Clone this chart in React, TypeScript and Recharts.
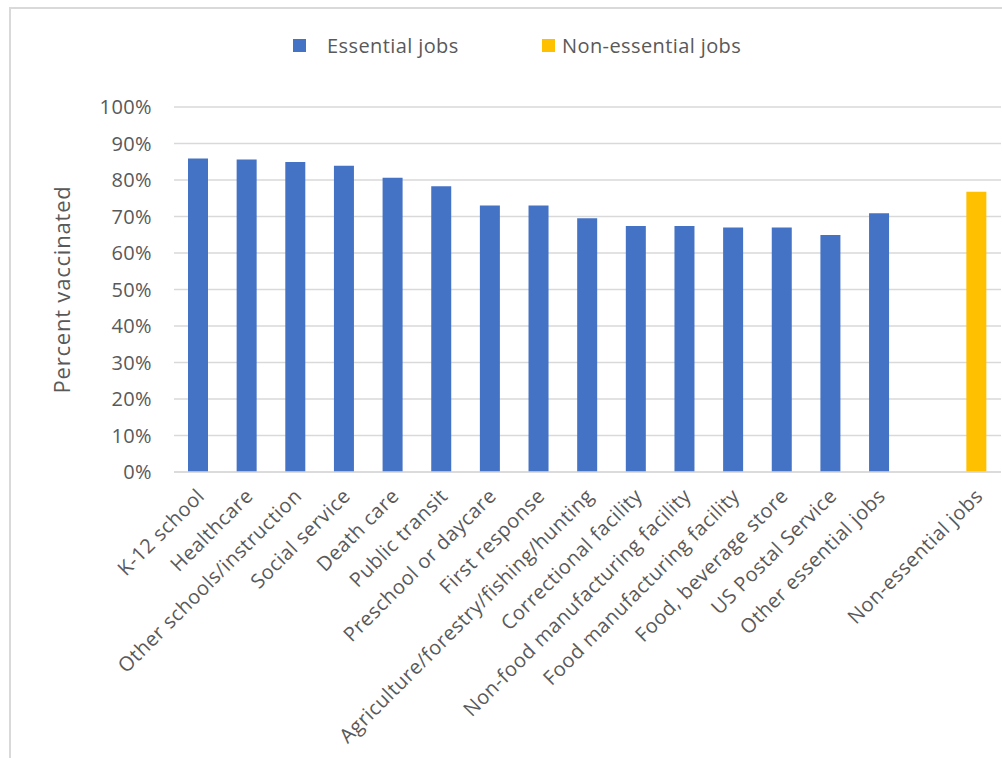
import React from 'react';
import { BarChart, Bar, XAxis, YAxis, CartesianGrid, Label } from 'recharts';

const categories = [
  'K-12 school',
  'Healthcare',
  'Other schools/instruction',
  'Social service',
  'Death care',
  'Public transit',
  'Preschool or daycare',
  'First response',
  'Agriculture/forestry/fishing/hunting',
  'Correctional facility',
  'Non-food manufacturing facility',
  'Food manufacturing facility',
  'Food, beverage store',
  'US Postal Service',
  'Other essential jobs',
  '',
  'Non-essential jobs',
];

const essentialValues: (number | null)[] = [
  85.9, 85.6, 84.9, 83.9, 80.6, 78.3, 73.0, 73.0, 69.5, 67.4, 67.4, 67.0, 67.0, 64.9, 70.9, null, null,
];

const nonEssentialValues: (number | null)[] = [
  null, null, null, null, null, null, null, null, null, null, null, null, null, null, null, null, 76.8,
];

const yTicks = [0, 10, 20, 30, 40, 50, 60, 70, 80, 90, 100];

const legendItems = [
  { label: 'Essential jobs', color: '#4472C4' },
  { label: 'Non-essential jobs', color: '#FFC000' },
];

const data = categories.map((c, i) => ({
  name: c,
  essential: essentialValues[i],
  nonEssential: nonEssentialValues[i],
}));

const FONT = '"Open Sans", sans-serif';
const TEXT = '#595959';

const XTick = (props: any) => {
  const { x, y, payload } = props;
  return (
    <g transform={`translate(${x},${y})`}>
      <text
        x={2}
        y={12}
        transform="rotate(-45 2 12)"
        textAnchor="end"
        dominantBaseline="central"
        fill={TEXT}
        fontSize={20}
        letterSpacing={0.5}
        fontFamily={FONT}
      >
        {payload.value}
      </text>
    </g>
  );
};

export default function App() {
  return (
    <div style={{ position: 'absolute', left: 0, top: 0, width: 1002, height: 758, background: '#fff', overflow: 'hidden' }}>
      <div
        style={{
          position: 'absolute',
          left: 9,
          top: 7,
          width: 1002,
          height: 760,
          borderLeft: '2px solid #d9d9d9',
          borderTop: '2px solid #d9d9d9',
        }}
      />
      <div
        style={{
          position: 'absolute',
          top: 32,
          left: 0,
          width: 1002,
          fontFamily: FONT,
          fontSize: 20,
          letterSpacing: 0.4,
          color: TEXT,
        }}
      >
        <div style={{ position: 'absolute', left: 293, display: 'flex', alignItems: 'center' }}>
          <span style={{ display: 'inline-block', width: 13, height: 13, background: legendItems[0].color, marginRight: 21 }} />
          <span>{legendItems[0].label}</span>
        </div>
        <div style={{ position: 'absolute', left: 542, display: 'flex', alignItems: 'center' }}>
          <span style={{ display: 'inline-block', width: 13, height: 13, background: legendItems[1].color, marginRight: 7 }} />
          <span>{legendItems[1].label}</span>
        </div>
      </div>
      <div style={{ position: 'absolute', left: 0, top: 0 }}>
        <BarChart
          width={1002}
          height={758}
          data={data}
          margin={{ top: 107, right: 1, bottom: 0, left: 0 }}
          barCategoryGap={0}
        >
          <CartesianGrid vertical={false} stroke="#d9d9d9" strokeWidth={1.5} />
          <XAxis
            dataKey="name"
            interval={0}
            height={286}
            tickLine={false}
            axisLine={{ stroke: '#d9d9d9', strokeWidth: 1.5 }}
            tick={<XTick />}
          />
          <YAxis
            width={174}
            domain={[0, 100]}
            ticks={yTicks}
            tickFormatter={(v: number) => `${v}%`}
            axisLine={false}
            tickLine={false}
            tickMargin={16}
            tick={{ fill: TEXT, fontSize: 20, fontFamily: FONT, letterSpacing: 0.4 }}
          >
            <Label
              value="Percent vaccinated"
              angle={-90}
              position="insideLeft"
              offset={62}
              style={{ fill: TEXT, fontSize: 22, fontFamily: FONT, letterSpacing: 0.8, textAnchor: 'middle' }}
            />
          </YAxis>
          <Bar dataKey="essential" stackId="a" fill="#4472C4" barSize={20} isAnimationActive={false} />
          <Bar dataKey="nonEssential" stackId="a" fill="#FFC000" barSize={20} isAnimationActive={false} />
        </BarChart>
      </div>
    </div>
  );
}
